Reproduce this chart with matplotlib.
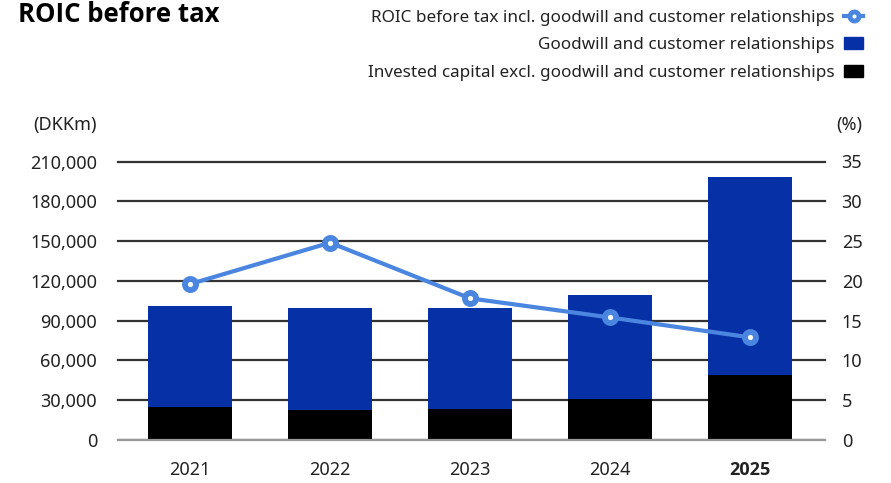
import matplotlib
matplotlib.use("Agg")
import matplotlib.pyplot as plt
from matplotlib.lines import Line2D
from matplotlib.patches import Patch

plt.rcParams["font.family"] = ["Noto Sans", "DejaVu Sans"]

# Data
years = ["2021", "2022", "2023", "2024", "2025"]
invested_excl = [24800, 22600, 23300, 30900, 48900]
goodwill = [76200, 76800, 76100, 78200, 149100]
roic = [19.6, 24.8, 17.8, 15.4, 12.9]

navy = "#0630a5"
light_blue = "#4a86e0"
text_col = "#222222"

fig = plt.figure(figsize=(8.91, 4.83), dpi=100)
ax = fig.add_axes([118 / 891, 43 / 483, 707 / 891, 278.5 / 483])
ax2 = ax.twinx()

x = list(range(len(years)))
ax.bar(x, invested_excl, width=0.6, color="black", zorder=2)
ax.bar(x, goodwill, bottom=invested_excl, width=0.6, color=navy, zorder=2)

ax.set_ylim(0, 210000)
ax.set_xlim(-0.515, 4.535)
ax.set_yticks(range(0, 210001, 30000))
ax.set_yticklabels([f"{v:,}" for v in range(0, 210001, 30000)])
ax.set_xticks(x)
ax.set_xticklabels(years)
last = ax.get_xticklabels()[-1]
last.set_fontfamily(["Open Sans", "DejaVu Sans"])
last.set_fontweight("bold")
ax.yaxis.grid(True, color="#333333", linewidth=1.6, zorder=1)
for gl in ax.get_ygridlines()[1:]:
    gl.set_clip_on(False)
ax.set_axisbelow(True)
ax.axhline(0, color="#999999", linewidth=1.6, zorder=3, clip_on=False)

# ROIC line on the right-hand percentage axis
ax2.plot(x, roic, color=light_blue, linewidth=3, marker="o", markersize=8,
         markerfacecolor="white", markeredgecolor=light_blue,
         markeredgewidth=4.2, zorder=4)
ax2.set_ylim(0, 35)
ax2.set_yticks(range(0, 36, 5))

for a in (ax, ax2):
    for s in a.spines.values():
        s.set_visible(False)
ax.tick_params(axis="y", length=0, pad=15, labelsize=13, labelcolor=text_col)
ax.tick_params(axis="x", length=0, pad=15, labelsize=13, labelcolor=text_col)
ax2.tick_params(axis="y", length=0, pad=12, labelsize=13, labelcolor=text_col)

fig.text(97 / 891, 1 - 125 / 483, "(DKKm)", ha="right", va="center",
         fontsize=13, color=text_col)
fig.text(836 / 891, 1 - 125 / 483, "(%)", ha="left", va="center",
         fontsize=13, color=text_col)
fig.text(18 / 891, 1 - 14 / 483, "ROIC before tax", ha="left", va="center",
         fontsize=18.5, fontweight="bold", family=["Open Sans", "DejaVu Sans"],
         color="black")

handles = [
    Line2D([0], [0], color=light_blue, linewidth=3, marker="o", markersize=6.5,
           markerfacecolor="white", markeredgecolor=light_blue, markeredgewidth=3.5),
    Patch(color=navy),
    Patch(color="black"),
]
labels = [
    "ROIC before tax incl. goodwill and customer relationships",
    "Goodwill and customer relationships",
    "Invested capital excl. goodwill and customer relationships",
]
leg = fig.legend(handles, labels, loc="upper right", bbox_to_anchor=(870 / 891, 1 - 3 / 483),
                 markerfirst=False, frameon=False, fontsize=12.3, handlelength=1.1,
                 handleheight=0.7, handletextpad=0.6, labelspacing=0.68,
                 borderaxespad=0, labelcolor=text_col)

fig.savefig("out.png", dpi=100)
